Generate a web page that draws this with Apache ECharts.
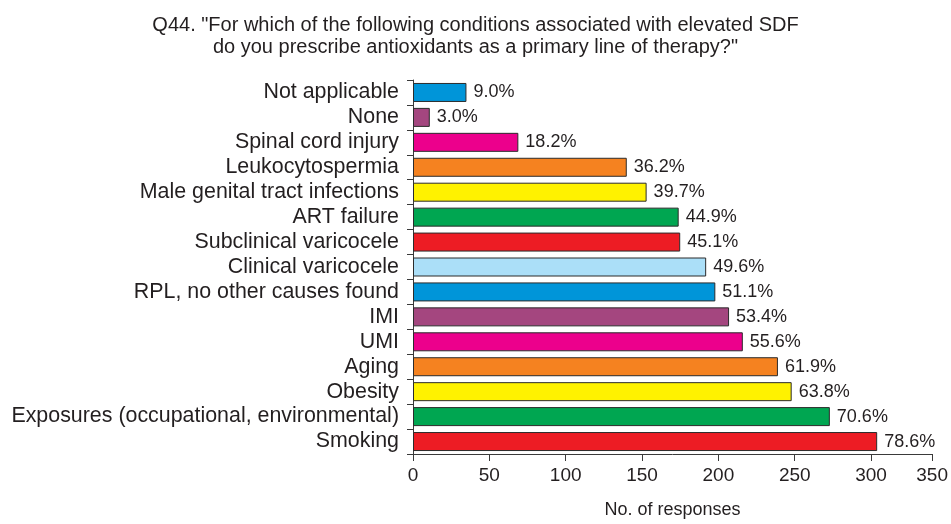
<!DOCTYPE html>
<html><head><meta charset="utf-8">
<script src="https://cdn.jsdelivr.net/npm/echarts@6/dist/echarts.min.js"></script>
<style>html,body{margin:0;padding:0;background:#fff}#c{width:951px;height:524px}</style>
</head><body><div id="c"></div>
<script>
var categories = ["Not applicable","None","Spinal cord injury","Leukocytospermia","Male genital tract infections","ART failure","Subclinical varicocele","Clinical varicocele","RPL, no other causes found","IMI","UMI","Aging","Obesity","Exposures (occupational, environmental)","Smoking"];
var responses = [35,11,69,140,153,174,175,192,198,207,216,239,248,273,304];
var percentLabels = ["9.0%","3.0%","18.2%","36.2%","39.7%","44.9%","45.1%","49.6%","51.1%","53.4%","55.6%","61.9%","63.8%","70.6%","78.6%"];
var barColors = ["#0095d9","#a4467f","#ec008c","#f58220","#fff200","#00a651","#ed1c24","#abdff8","#0095d9","#a4467f","#ec008c","#f58220","#fff200","#00a651","#ed1c24"];
// the reference's axis ends just short of a full interval, where it is labelled 350
var xAxisMin = 0, xAxisMax = 340, xInterval = 50;
var xTickLabels = ["0","50","100","150","200","250","300","350"];

var FONT = 'Liberation Sans, Arial, Helvetica, sans-serif';
var txt = '#231f20';
var chart = echarts.init(document.getElementById('c'));
chart.setOption({
  animation:false,
  title:{text:'Q44. "For which of the following conditions associated with elevated SDF\ndo you prescribe antioxidants as a primary line of therapy?"',
    left:'center', top:9, textStyle:{fontFamily:FONT,fontSize:20,fontWeight:'normal',color:txt,lineHeight:22}},
  grid:{left:413,right:16,top:80,bottom:66},
  xAxis:{type:'value',min:xAxisMin,max:xAxisMax,interval:xInterval,
    name:'No. of responses',nameLocation:'middle',nameGap:47,
    nameTextStyle:{fontFamily:FONT,fontSize:18,color:txt},
    axisLine:{show:true,lineStyle:{color:'#3a3a3a',width:1}},
    axisTick:{show:true,length:7,lineStyle:{color:'#3a3a3a'}},
    axisLabel:{fontFamily:FONT,fontSize:19,color:txt,margin:12,showMaxLabel:true,
      formatter:function(v,i){return xTickLabels[i];}},
    splitLine:{show:false}},
  yAxis:{type:'category',data:categories,inverse:true,
    axisLine:{show:true,lineStyle:{color:'#3a3a3a',width:1}},
    axisTick:{show:true,length:6,interval:0,lineStyle:{color:'#3a3a3a'}},
    axisLabel:{fontFamily:FONT,fontSize:21.4,color:txt,margin:14,interval:0}},
  series:[{type:'bar',barWidth:19,
    data:responses.map(function(v,i){return {value:v,itemStyle:{color:barColors[i]}};}),
    itemStyle:{borderColor:'#2b2b2b',borderWidth:1},
    label:{show:true,position:'right',distance:7,fontFamily:FONT,fontSize:18,color:txt,
      formatter:function(p){return percentLabels[p.dataIndex];}}}]
});
</script></body></html>
